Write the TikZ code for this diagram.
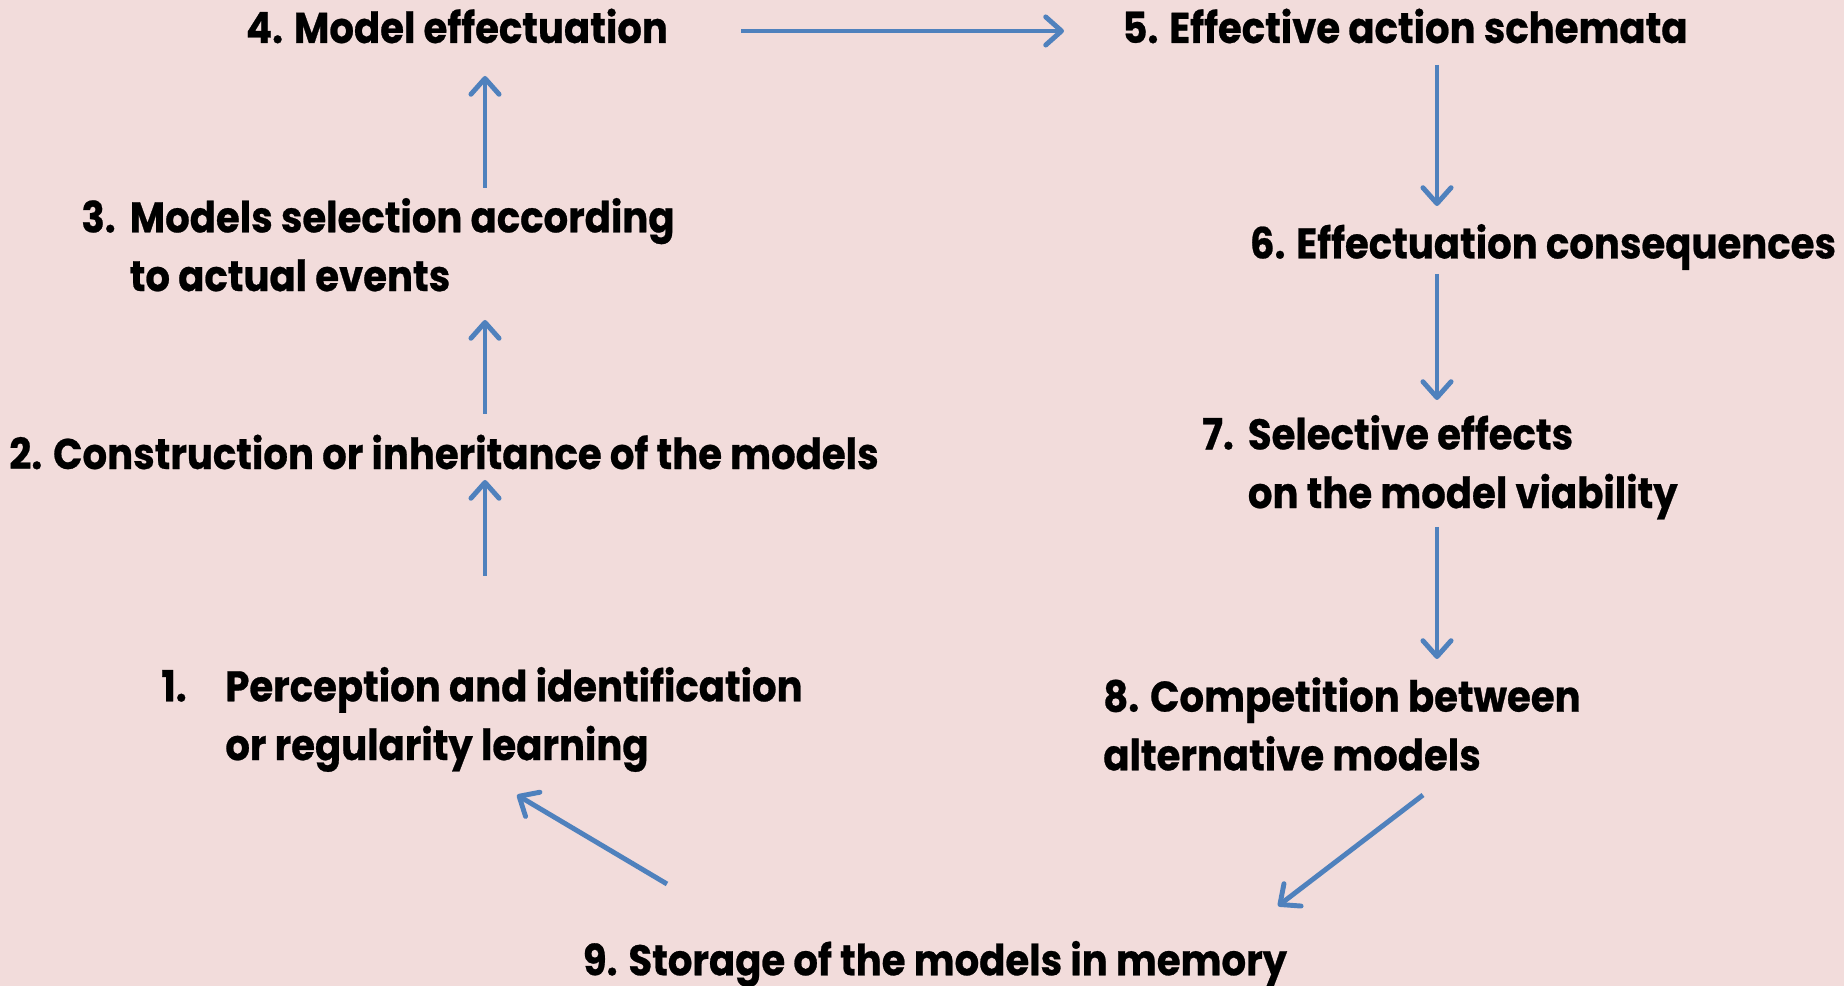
\documentclass[tikz,border=0pt]{standalone}
\usepackage{fontspec}
\setmainfont{Poppins}[FakeStretch=0.9, BoldFeatures={FakeBold=0.6}]
\usetikzlibrary{arrows.meta,calc}
\definecolor{bgpink}{HTML}{F2DCDB}
\definecolor{flowblue}{HTML}{4F81BD}

\begin{document}
\begin{tikzpicture}[x=0.01cm, y=0.01cm,
    every node/.style={font=\bfseries\fontsize{12.2}{16.7}\selectfont},
    flow/.style={flowblue, line width=1.4pt, -{Straight Barb[length=4.5pt,width=8pt,round]}}]
\fill[bgpink] (0,0) rectangle (1844,-986);
\useasboundingbox (0,0) rectangle (1844,-986);

\node (model4) at (457,-26) {4. Model effectuation};
\node (action5) at (1405,-26) {5. Effective action schemata};
\node (select3) at (378,-250) {\begin{tabular}{@{}l@{\hspace{4pt}}l@{}}3. & Models selection according\\ & to actual events\end{tabular}};
\node (build2) at (444,-452) {2. Construction or inheritance of the models};
\node (percept1) at (482,-719) {\begin{tabular}{@{}l@{\hspace{11pt}}l@{}}1. & Perception and identification\\ & or regularity learning\end{tabular}};
\node (conseq6) at (1543,-247) {6. Effectuation consequences};
\node (effect7) at (1440,-467) {\begin{tabular}{@{}l@{\hspace{4pt}}l@{}}7. & Selective effects\\ & on the model viability\end{tabular}};
\node[align=left] (compet8) at (1342,-724) {8. Competition between\\alternative models};
\node (store9) at (935,-964) {9. Storage of the models in memory};

\draw[flow] ($(model4)+(284,-5)$) -- ($(action5)+(-341,-5)$);
\draw[flow] ($(action5)+(32,-39)$) -- ($(conseq6)+(-106,41)$);
\draw[flow] ($(conseq6)+(-106,-27)$) -- ($(effect7)+(-3,67)$);
\draw[flow] ($(effect7)+(-3,-60)$) -- ($(compet8)+(95,65)$);
\draw[flow] ($(compet8)+(81,-71)$) -- ($(store9)+(343,58)$);
\draw[flow] ($(store9)+(-268,80)$) -- ($(percept1)+(35,-76)$);
\draw[flow] ($(percept1)+(3,143)$) -- ($(build2)+(41,-28)$);
\draw[flow] ($(build2)+(41,38)$) -- ($(select3)+(107,-70)$);
\draw[flow] ($(select3)+(107,62)$) -- ($(model4)+(28,-50)$);
\end{tikzpicture}
\end{document}
